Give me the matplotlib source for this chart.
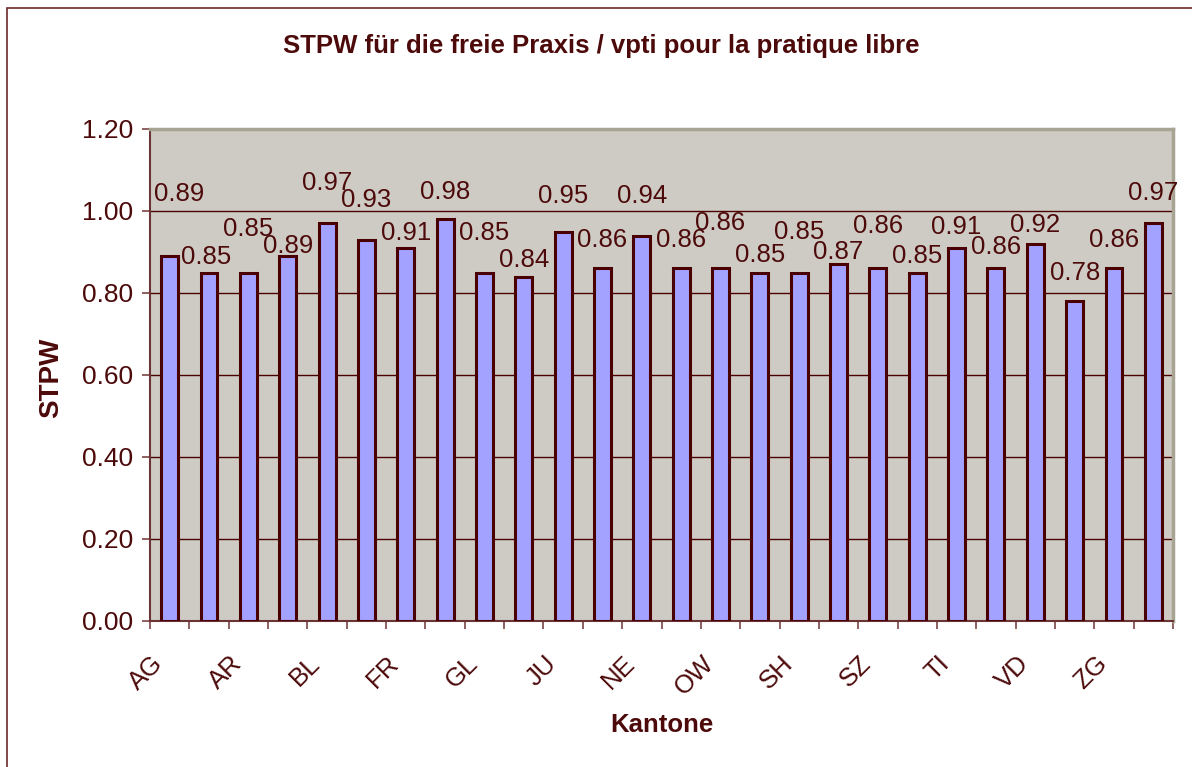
import matplotlib
matplotlib.use('Agg')
import matplotlib.pyplot as plt
import matplotlib.transforms as mtransforms
import numpy as np
from matplotlib.patches import Rectangle

# Daten: Kantone und STPW-Werte
kantone = ['AG', 'AI', 'AR', 'BE', 'BL', 'BS', 'FR', 'GE', 'GL', 'GR', 'JU', 'LU', 'NE',
           'NW', 'OW', 'SG', 'SH', 'SO', 'SZ', 'TG', 'TI', 'UR', 'VD', 'VS', 'ZG', 'ZH']
stpw = [0.89, 0.85, 0.85, 0.89, 0.97, 0.93, 0.91, 0.98, 0.85, 0.84, 0.95, 0.86, 0.94,
        0.86, 0.86, 0.85, 0.85, 0.87, 0.86, 0.85, 0.91, 0.86, 0.92, 0.78, 0.86, 0.97]
y_ticks = [0.0, 0.2, 0.4, 0.6, 0.8, 1.0, 1.2]

# Excel-Stil: versetzte Beschriftungen (Abstand über dem Balken, Datenwerte)
label_lift = [0.151, 0.038, 0.106, 0.025, 0.098, 0.097, 0.036, 0.066, 0.096, 0.040, 0.087,
              0.069, 0.097, 0.069, 0.111, 0.043, 0.099, 0.030, 0.103, 0.040, 0.051, 0.052,
              0.046, 0.069, 0.069, 0.074]
label_shift = [0.25, -0.08] + [0.0] * 24

text_col = '#4d0a0a'
edge_col = '#4a0000'
bar_col = '#a3a3ff'
bg_col = '#cecbc5'

plt.rcParams['font.family'] = ['Liberation Sans', 'DejaVu Sans']

fig = plt.figure(figsize=(11.92, 7.67), dpi=100)
fig.patch.set_facecolor('white')
fig.patches.append(Rectangle((7 / 1192, -0.01), 1.0, 1 - 8 / 767 + 0.01,
                             transform=fig.transFigure, fill=False,
                             edgecolor='#6b2a2a', linewidth=1.2))

ax = fig.add_axes([150 / 1192, 1 - 621 / 767, 1023 / 1192, 492 / 767])
ax.set_facecolor(bg_col)

x = np.arange(len(kantone))
ax.bar(x, stpw, width=0.43, color=bar_col, edgecolor=edge_col, linewidth=2.2, zorder=3)

for i, v in enumerate(stpw):
    ax.text(x[i] + label_shift[i], v + label_lift[i], f'{v:.2f}', ha='center', va='center',
            fontsize=18.5, color=text_col, zorder=4)

ax.set_xlim(-0.5, len(kantone) - 0.5)
ax.set_ylim(0, 1.2)
ax.set_yticks(y_ticks)
ax.set_yticklabels([f'{t:.2f}' for t in y_ticks])
for t in y_ticks[1:-1]:
    ax.axhline(t, color=edge_col, linewidth=1.0, zorder=1)

ax.set_xticks(x[::2])
ax.set_xticklabels(kantone[::2], rotation=45, ha='right', va='top', rotation_mode='anchor')
ax.set_xticks(np.arange(len(kantone) + 1) - 0.5, minor=True)
ax.tick_params(axis='x', which='major', length=0, pad=22, labelsize=18.5, labelcolor=text_col)
ax.tick_params(axis='x', which='minor', length=6, width=1.2, color='#7a4545')
ax.tick_params(axis='y', length=6, width=1.2, color='#7a4545', pad=6,
               labelsize=19, labelcolor=text_col)

# Beschriftungen wie in Excel etwas nach links versetzt
shift = mtransforms.ScaledTranslation(-0.19, 0, fig.dpi_scale_trans)
for lab in ax.get_xticklabels():
    lab.set_transform(lab.get_transform() + shift)

for side in ['left', 'bottom']:
    ax.spines[side].set_color('#6b3535')
    ax.spines[side].set_linewidth(1.5)
for side in ['top', 'right']:
    ax.spines[side].set_color('#a8a494')
    ax.spines[side].set_linewidth(2.5)

fig.text(601 / 1192, 1 - 46 / 767, 'STPW für die freie Praxis / vpti pour la pratique libre',
         ha='center', va='center', fontsize=18.5, fontweight='bold', color=text_col)
fig.text(51 / 1192, 1 - 378 / 767, 'STPW', rotation=90, ha='center', va='center',
         fontsize=20, fontweight='bold', color=text_col)
fig.text(662 / 1192, 1 - 725 / 767, 'Kantone', ha='center', va='center',
         fontsize=18.5, fontweight='bold', color=text_col)

fig.savefig('out.png', dpi=100)
